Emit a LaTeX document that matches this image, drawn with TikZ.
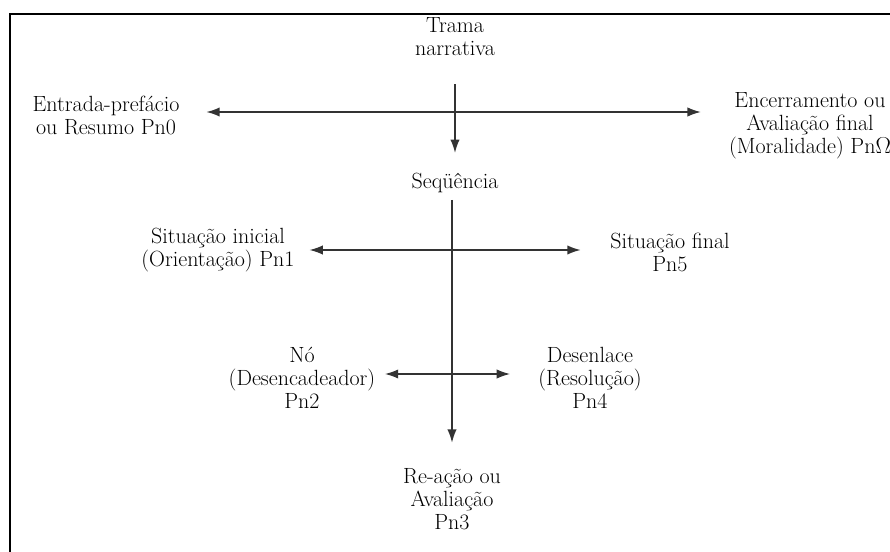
\documentclass[tikz,border=0pt]{standalone}
\usetikzlibrary{arrows.meta,positioning}

\begin{document}
\begin{tikzpicture}[
  x=0.75pt, y=-0.75pt,
  font=\fontsize{16.5}{17.25}\selectfont,
  label/.style={align=center, inner sep=0pt},
  arrow/.style={-{Latex[length=10pt,width=7pt]}, line width=1.1pt, draw=black!80},
  twoway/.style={{Latex[length=10pt,width=7pt]}-{Latex[length=10pt,width=7pt]}, line width=1.1pt, draw=black!80},
  frame/.style={line width=2.2pt, line cap=rect}
]
\useasboundingbox (0,0) rectangle (890,552);

% frame (cut at right and bottom)
\draw[frame] (10,552) -- (10,14) -- (890,14);

\node[label] (trama) at (455,37) {Trama\\narrativa};
\node[label] (seq) at (455,183) {Seqüência};
\node[label] (entrada) at (106,115) {Entrada-prefácio\\ou Resumo Pn0};
\node[label] (encerr) at (810,126) {Encerramento ou\\Avaliação final\\(Moralidade) Pn$\Omega$};

\node[label] (sitini) at (218,250) {Situação inicial\\(Orientação) Pn1};
\node[label] (sitfin) at (670,252) {Situação final\\Pn5};

\node[label] (no) at (302,378) {Nó\\(Desencadeador)\\Pn2};
\node[label] (desen) at (590,378) {Desenlace\\(Resolução)\\Pn4};

\node[label] (reacao) at (452,499) {Re-ação ou\\Avaliação\\Pn3};

\coordinate (cross0) at (455,112);
\coordinate (cross1) at (452,250);
\coordinate (cross2) at (452,374);

\draw[arrow] ([yshift=-21pt]trama.south) -- ([yshift=15pt]seq.north);
\draw[twoway] ([xshift=20pt]entrada.east |- cross0) -- ([xshift=-21pt]encerr.west |- cross0);
\draw[arrow] ([yshift=-5pt]seq.south -| cross1) -- ([yshift=19pt]reacao.north -| cross1);
\draw[twoway] ([xshift=11pt]sitini.east |- cross1) -- ([xshift=-22pt]sitfin.west |- cross1);
\draw[twoway] ([xshift=7pt]no.east |- cross2) -- ([xshift=-21pt]desen.west |- cross2);

\end{tikzpicture}
\end{document}
